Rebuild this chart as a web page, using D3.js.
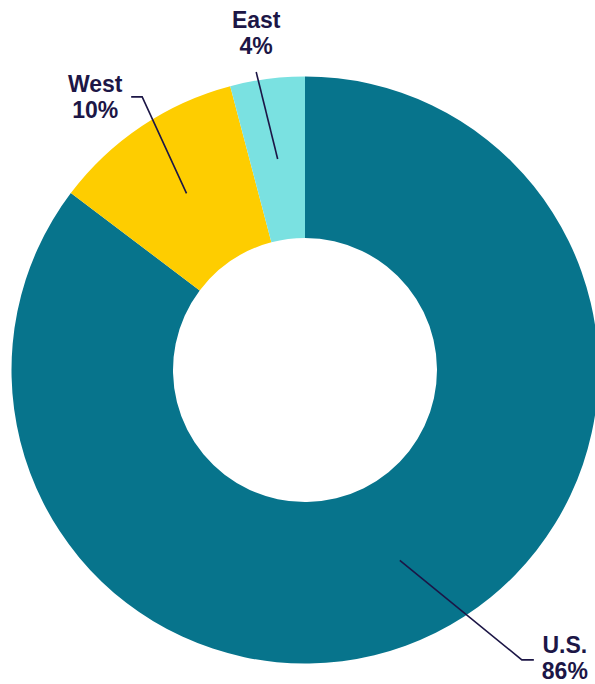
<!DOCTYPE html>
<html>
<head>
<meta charset="utf-8">
<script src="https://cdn.jsdelivr.net/npm/d3@7"></script>
<style>
  body { margin: 0; background: #fff; }
  svg { display: block; }
</style>
</head>
<body>
<script>
// Share of total by region (slice sizes, labels as printed)
var regions = ["U.S.", "West", "East"];
var shares = [85.3, 10.6, 4.1];
var shareLabels = ["86%", "10%", "4%"];
var colors = ["#07748c", "#fecd00", "#7ae1e1"];

// label leader layout: end angle (deg), end radius, horizontal tail
var leaders = [
  {angle: 143.2, r: 362, tail: 12},
  {angle: -30.8, r: 318, tail: -11},
  {angle: -9.3, r: 302, tail: 0}
];

var width = 595, height = 684;
var cx = 305, cy = 370,
    outerR = 293.5, innerR = 132;

var svg = d3.select("body").append("svg")
    .attr("width", width)
    .attr("height", height);

var g = svg.append("g")
    .attr("transform", "translate(" + cx + "," + cy + ")");

var pie = d3.pie().sort(null).value(function(d) { return d.value; });
var arc = d3.arc().innerRadius(innerR).outerRadius(outerR);

var data = regions.map(function(r, i) {
  return {name: r, value: shares[i], label: shareLabels[i], color: colors[i], leader: leaders[i]};
});

var arcs = pie(data);

g.selectAll("path.slice")
    .data(arcs)
  .enter().append("path")
    .attr("class", "slice")
    .attr("d", arc)
    .attr("fill", function(d) { return d.data.color; });

var midR = (innerR + outerR) / 2;

function polar(a, r) {
  return [Math.sin(a) * r, -Math.cos(a) * r];
}

var labels = g.selectAll("g.label")
    .data(arcs)
  .enter().append("g")
    .attr("class", "label");

labels.append("path")
    .attr("fill", "none")
    .attr("stroke", "#1c1646")
    .attr("stroke-width", 1.6)
    .attr("d", function(d) {
      var mid = (d.startAngle + d.endAngle) / 2;
      var s = polar(mid, midR);
      var e = polar(d.data.leader.angle * Math.PI / 180, d.data.leader.r);
      var p = "M" + s[0] + "," + s[1] + "L" + e[0] + "," + e[1];
      if (d.data.leader.tail) p += "h" + d.data.leader.tail;
      return p;
    });

var text = labels.append("text")
    .attr("font-family", "Liberation Sans, Arial, sans-serif")
    .attr("font-weight", "bold")
    .attr("font-size", "23px")
    .attr("fill", "#1c1646")
    .attr("text-anchor", "middle")
    .attr("transform", function(d) {
      var l = d.data.leader;
      var e = polar(l.angle * Math.PI / 180, l.r);
      var x, y;
      if (l.tail > 0) { x = e[0] + l.tail + 31; y = e[1] - 7; }
      else if (l.tail < 0) { x = e[0] + l.tail - 36; y = e[1] - 5; }
      else { x = e[0]; y = e[1] - 44; }
      return "translate(" + x + "," + y + ")";
    });

text.append("tspan")
    .attr("x", 0)
    .attr("y", 0)
    .text(function(d) { return d.data.name; });

text.append("tspan")
    .attr("x", 0)
    .attr("y", 26)
    .text(function(d) { return d.data.label; });
</script>
</body>
</html>
